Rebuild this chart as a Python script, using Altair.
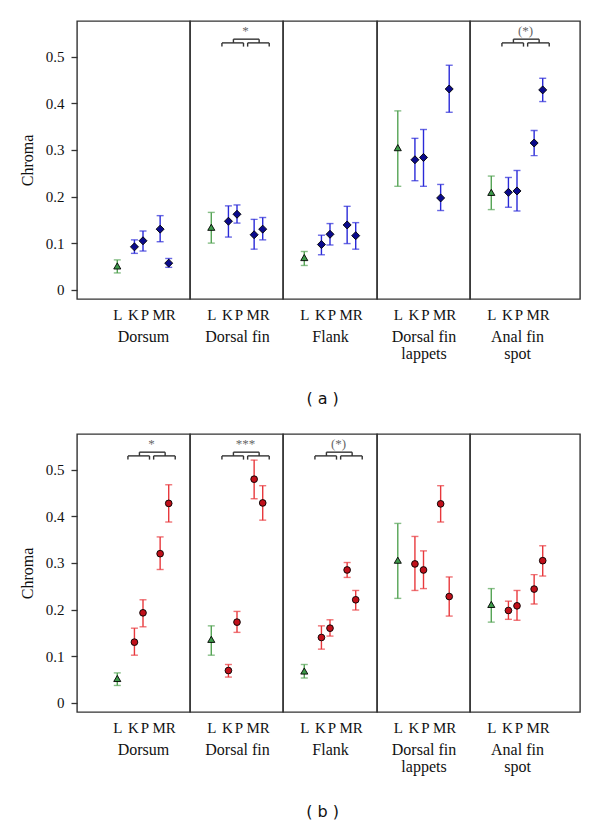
import altair as alt
import pandas as pd

# ---------------- data ----------------
regions = ["Dorsum", "Dorsal fin", "Flank", "Dorsal fin lappets", "Anal fin spot"]
region_titles = [["Dorsum"], ["Dorsal fin"], ["Flank"], ["Dorsal fin", "lappets"], ["Anal fin", "spot"]]
cats = ["L", "K", "P", "M", "R"]

# panel (a)
a_mean = [
    [0.051, 0.092, 0.105, 0.130, 0.057],
    [0.134, 0.147, 0.162, 0.118, 0.130],
    [0.069, 0.097, 0.119, 0.139, 0.116],
    [0.305, 0.279, 0.284, 0.197, 0.431],
    [0.209, 0.209, 0.212, 0.315, 0.429],
]
a_lo = [
    [0.036, 0.078, 0.083, 0.103, 0.048],
    [0.100, 0.113, 0.143, 0.087, 0.107],
    [0.052, 0.075, 0.096, 0.099, 0.087],
    [0.222, 0.234, 0.222, 0.170, 0.381],
    [0.172, 0.177, 0.169, 0.288, 0.404],
]
a_hi = [
    [0.064, 0.107, 0.126, 0.159, 0.067],
    [0.166, 0.180, 0.182, 0.151, 0.155],
    [0.082, 0.117, 0.142, 0.179, 0.144],
    [0.384, 0.325, 0.344, 0.226, 0.482],
    [0.244, 0.241, 0.256, 0.342, 0.454],
]
a_sig = ["", "*", "", "", "(*)"]

# panel (b)
b_mean = [
    [0.052, 0.130, 0.193, 0.320, 0.428],
    [0.136, 0.069, 0.173, 0.480, 0.429],
    [0.068, 0.140, 0.160, 0.285, 0.221],
    [0.306, 0.298, 0.285, 0.427, 0.228],
    [0.211, 0.198, 0.208, 0.244, 0.305],
]
b_lo = [
    [0.037, 0.102, 0.163, 0.286, 0.388],
    [0.102, 0.055, 0.151, 0.438, 0.392],
    [0.053, 0.115, 0.143, 0.269, 0.199],
    [0.224, 0.241, 0.245, 0.388, 0.186],
    [0.173, 0.179, 0.177, 0.212, 0.272],
]
b_hi = [
    [0.064, 0.160, 0.221, 0.356, 0.468],
    [0.165, 0.082, 0.196, 0.521, 0.466],
    [0.082, 0.165, 0.178, 0.301, 0.241],
    [0.385, 0.357, 0.326, 0.466, 0.270],
    [0.245, 0.218, 0.241, 0.275, 0.337],
]
b_sig = ["*", "***", "(*)", "", ""]

# ---------------- layout / style ----------------
SERIF = "Liberation Serif, DejaVu Serif, serif"
x_domain = ["L", "L|K", "K", "P", "P|M", "M", "R"]
facet_widths = [113, 93, 94, 93, 110]
facet_ranges = [[36, 96], [17, 77], [17, 77], [16.5, 76.5], [17, 77]]
PLOT_H = 278
Y_DOMAIN = [-0.02, 0.577]

GREEN_BAR, GREEN_FILL = "#55a455", "#3d9a4a"
BLUE_BAR, BLUE_FILL = "#2a2ad8", "#0a0a8c"
RED_BAR, RED_FILL = "#e8383c", "#c0101a"

ARM_Y, DROP_Y, TOP_Y, STAR_Y = 0.530, 0.522, 0.538, 0.556
HALF, MID = 6.5, 5
BR_COLOR = "#333333"

# nudge the close label pairs (K/P, M/R) slightly apart so they do not collide
LABEL_OFFSET = {
    "condition": [
        {"test": "datum.value == 'K' || datum.value == 'M'", "value": -1.5},
        {"test": "datum.value == 'P' || datum.value == 'R'", "value": 1.5},
    ],
    "value": 0,
}


def bracket_layers(label):
    one = pd.DataFrame({"k": [0]})
    layers = []

    def seg(x, y, x2=None, y2=None, xo=0, x2o=0):
        enc = {"x": alt.X(datum=x), "y": alt.Y(datum=y)}
        if x2 is not None:
            enc["x2"] = alt.X2(datum=x2)
        if y2 is not None:
            enc["y2"] = alt.Y2(datum=y2)
        kw = dict(color=BR_COLOR, strokeWidth=1.4)
        if xo:
            kw["xOffset"] = xo
        if x2o:
            kw["x2Offset"] = x2o
        layers.append(alt.Chart(one).mark_rule(**kw).encode(**enc))

    for c1, c2 in (("K", "P"), ("M", "R")):
        seg(c1, ARM_Y, x2=c2, xo=-HALF, x2o=HALF)
        seg(c1, ARM_Y, y2=DROP_Y, xo=-HALF)
        seg(c2, ARM_Y, y2=DROP_Y, xo=HALF)
        seg(c1, ARM_Y, y2=TOP_Y, xo=MID)
    seg("K", TOP_Y, x2="M", xo=MID, x2o=MID)
    layers.append(
        alt.Chart(one)
        .mark_text(font=SERIF, fontSize=13, color="#666666", baseline="middle")
        .encode(x=alt.X(datum="P|M"), y=alt.Y(datum=STAR_Y), text=alt.value(label))
    )
    return layers


def facet(i, means, los, his, wild_shape, wild_bar, wild_fill, sig):
    df = pd.DataFrame({"cat": cats, "mean": means[i], "lo": los[i], "hi": his[i]})
    xenc = alt.X(
        "cat:N",
        scale=alt.Scale(type="point", domain=x_domain, range=facet_ranges[i]),
        axis=alt.Axis(
            values=cats, ticks=False, domain=False, grid=False, labelAngle=0,
            labelFont=SERIF, labelFontSize=15, labelColor="#111", labelPadding=8,
            labelOffset=LABEL_OFFSET,
            title=region_titles[i], titleFont=SERIF, titleFontSize=16,
            titleFontWeight="normal", titleColor="#111", titlePadding=6,
            titleLineHeight=17,
        ),
    )
    yscale = alt.Scale(domain=Y_DOMAIN, nice=False, zero=False)
    if i == 0:
        yaxis = alt.Axis(
            values=[0, 0.1, 0.2, 0.3, 0.4, 0.5], domain=False, grid=False,
            tickSize=6, tickColor="#333", tickWidth=1.3,
            labelFont=SERIF, labelFontSize=15, labelColor="#111", labelPadding=7,
            labelExpr="datum.value == 0 ? '0' : format(datum.value, '.1f')",
            title="Chroma", titleFont=SERIF, titleFontSize=16,
            titleFontWeight="normal", titleColor="#111", titlePadding=10,
        )
    else:
        yaxis = None
    is_l = alt.datum.cat == "L"
    base = alt.Chart(df)
    bars = base.mark_rule(strokeWidth=1.4).encode(
        x=xenc,
        y=alt.Y("lo:Q", scale=yscale, axis=yaxis),
        y2="hi:Q",
        color=alt.condition(is_l, alt.value(GREEN_BAR), alt.value(wild_bar)),
    )
    cap_lo = base.mark_tick(size=7, thickness=1.4, orient="horizontal").encode(
        x=alt.X("cat:N"), y=alt.Y("lo:Q"),
        color=alt.condition(is_l, alt.value(GREEN_BAR), alt.value(wild_bar)),
    )
    cap_hi = base.mark_tick(size=7, thickness=1.4, orient="horizontal").encode(
        x=alt.X("cat:N"), y=alt.Y("hi:Q"),
        color=alt.condition(is_l, alt.value(GREEN_BAR), alt.value(wild_bar)),
    )
    pts = base.mark_point(filled=True, stroke="black", strokeWidth=0.9, opacity=1).encode(
        x=alt.X("cat:N"), y=alt.Y("mean:Q"),
        fill=alt.condition(is_l, alt.value(GREEN_FILL), alt.value(wild_fill)),
        shape=alt.condition(is_l, alt.value("triangle-up"), alt.value(wild_shape)),
        size=alt.condition(is_l, alt.value(50), alt.value(64 if wild_shape == "diamond" else 45)),
    )
    layers = [bars, cap_lo, cap_hi, pts]
    if sig[i]:
        layers += bracket_layers(sig[i])
    return alt.layer(*layers).properties(width=facet_widths[i], height=PLOT_H)


def panel(means, los, his, wild_shape, wild_bar, wild_fill, sig, caption):
    return alt.hconcat(
        *[facet(i, means, los, his, wild_shape, wild_bar, wild_fill, sig) for i in range(5)],
        spacing=0,
        bounds="flush",
        title=alt.TitleParams(
            caption, orient="bottom", anchor="middle", font="DejaVu Sans",
            fontSize=16, fontWeight="normal", color="#111", offset=29,
            frame="bounds", dx=23,
        ),
    )


pa = panel(a_mean, a_lo, a_hi, "diamond", BLUE_BAR, BLUE_FILL, a_sig, "( a )")
pb = panel(b_mean, b_lo, b_hi, "circle", RED_BAR, RED_FILL, b_sig, "( b )")

chart = (
    alt.vconcat(pa, pb, spacing=26)
    .properties(padding={"left": 10, "top": 12, "right": 5, "bottom": 0})
    .configure(background="white")
    .configure_view(stroke="#333333", strokeWidth=1.4)
)

chart.save("out.html", embed_options={"renderer": "svg", "actions": False})
